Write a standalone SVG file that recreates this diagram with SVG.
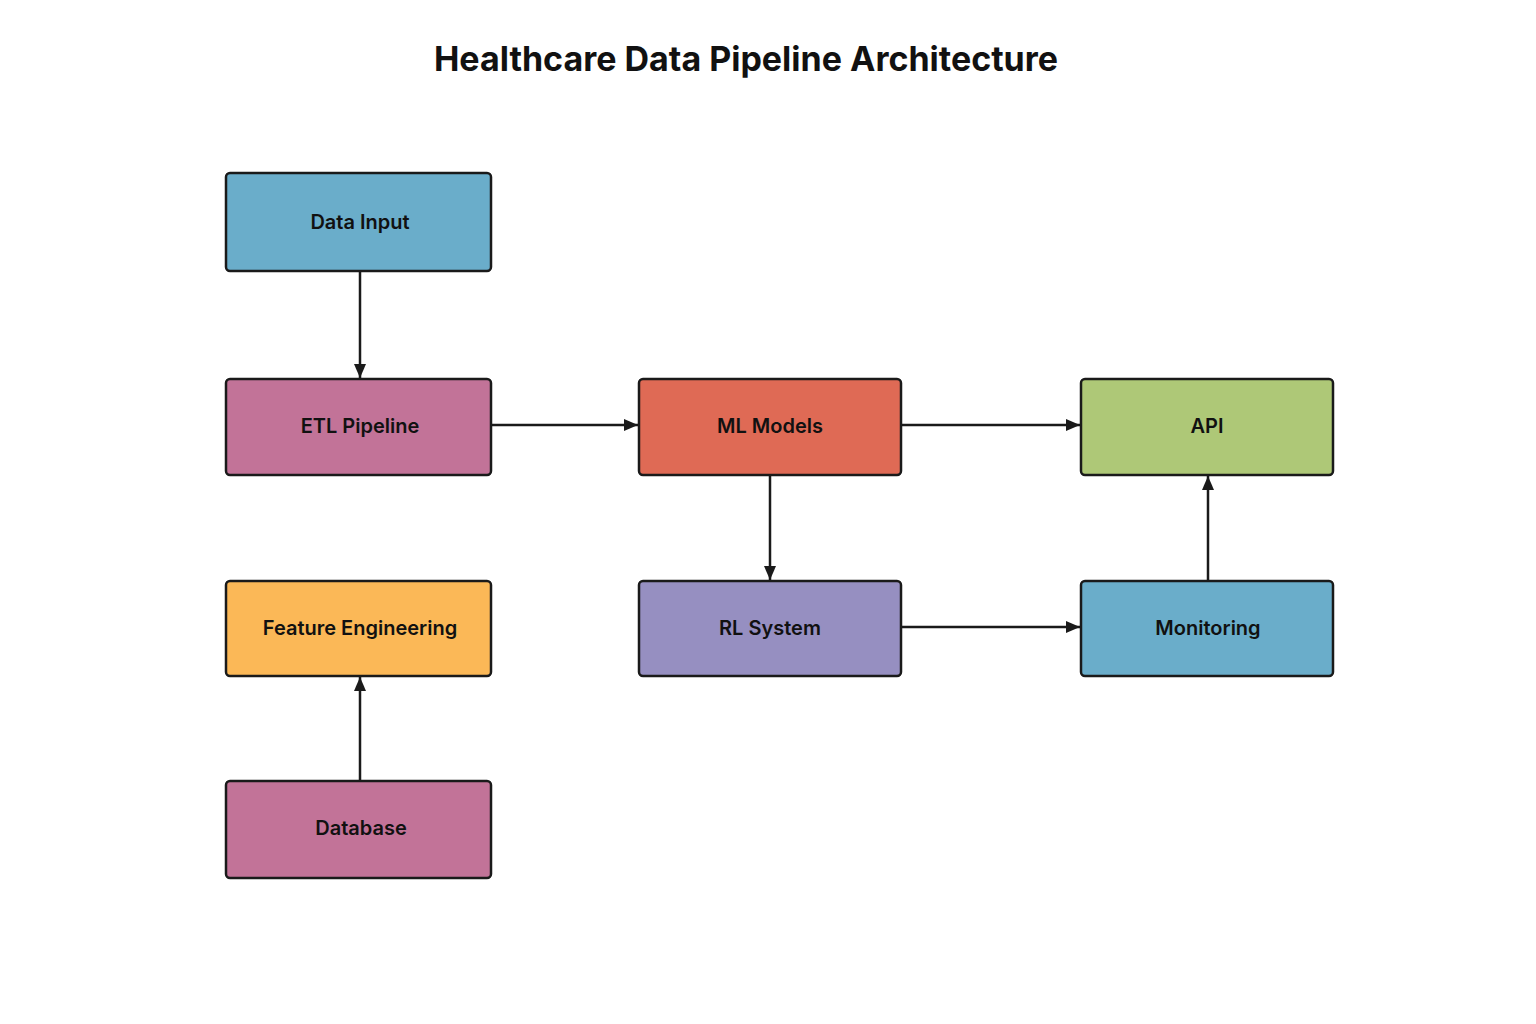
<svg xmlns="http://www.w3.org/2000/svg" width="1536" height="1024" viewBox="0 0 1536 1024">
<style>
.node rect{stroke:#1a1a1a;stroke-width:2.5}
.node text{font-family:"Inter","Liberation Sans",sans-serif;font-weight:600;font-size:20px;fill:#111;text-anchor:middle;dominant-baseline:central}
.title{font-family:"Inter","Liberation Sans",sans-serif;font-weight:700;font-size:34px;fill:#111;text-anchor:middle}
.conn line{stroke:#1a1a1a;stroke-width:2.5;marker-end:url(#ah)}
</style>
<defs>
<marker id="ah" viewBox="0 0 14 12" refX="14" refY="6" markerWidth="14" markerHeight="12" markerUnits="userSpaceOnUse" orient="auto">
<path d="M0,0 L14,6 L0,12 Z" fill="#1a1a1a"/>
</marker>
</defs>
<rect width="1536" height="1024" fill="#ffffff"/>
<text class="title" x="746" y="71">Healthcare Data Pipeline Architecture</text>
<g class="conn">
<line x1="360" y1="272" x2="360" y2="378"/>
<line x1="492" y1="425" x2="638" y2="425"/>
<line x1="902" y1="425" x2="1080" y2="425"/>
<line x1="770" y1="476" x2="770" y2="580"/>
<line x1="902" y1="627" x2="1080" y2="627"/>
<line x1="1208" y1="580" x2="1208" y2="476"/>
<line x1="360" y1="780" x2="360" y2="677"/>
</g>
<g id="data-input" class="node"><rect x="226" y="173" width="265" height="98" rx="4" fill="#6aadca"/><text x="360" y="222">Data Input</text></g>
<g id="etl-pipeline" class="node"><rect x="226" y="379" width="265" height="96" rx="4" fill="#c27398"/><text x="360" y="426">ETL Pipeline</text></g>
<g id="feature-engineering" class="node"><rect x="226" y="581" width="265" height="95" rx="4" fill="#fbb857"/><text x="360" y="628">Feature Engineering</text></g>
<g id="database" class="node"><rect x="226" y="781" width="265" height="97" rx="4" fill="#c27398"/><text x="361" y="828">Database</text></g>
<g id="ml-models" class="node"><rect x="639" y="379" width="262" height="96" rx="4" fill="#df6a55"/><text x="770" y="426">ML Models</text></g>
<g id="rl-system" class="node"><rect x="639" y="581" width="262" height="95" rx="4" fill="#968fc1"/><text x="770" y="628">RL System</text></g>
<g id="api" class="node"><rect x="1081" y="379" width="252" height="96" rx="4" fill="#aec877"/><text x="1207" y="426">API</text></g>
<g id="monitoring" class="node"><rect x="1081" y="581" width="252" height="95" rx="4" fill="#6aadca"/><text x="1208" y="628">Monitoring</text></g>
</svg>
